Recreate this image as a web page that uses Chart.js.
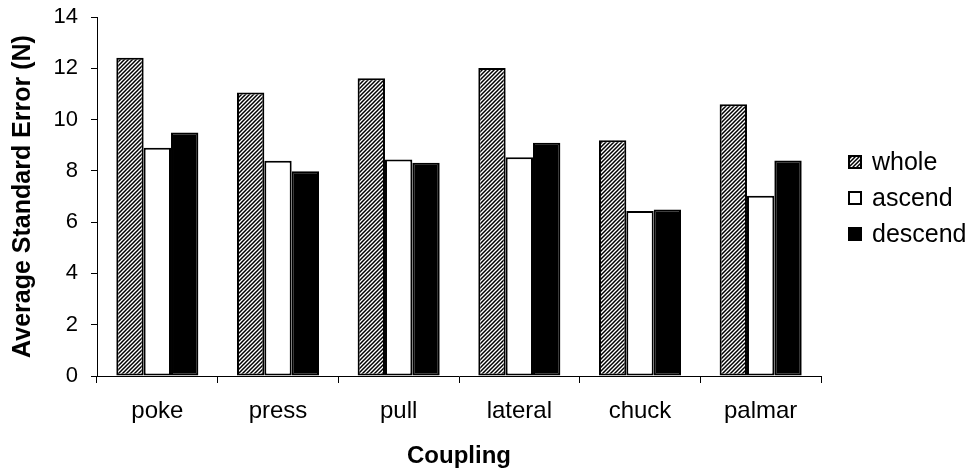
<!DOCTYPE html>
<html>
<head>
<meta charset="utf-8">
<script src="https://cdn.jsdelivr.net/npm/chart.js@4.4.1/dist/chart.umd.min.js"></script>
<style>
  html, body { margin: 0; padding: 0; background: #ffffff; }
  #wrap { width: 971px; height: 474px; }
</style>
</head>
<body>
<div id="wrap"><canvas id="errorChart" width="971" height="474"></canvas></div>
<script>
(function () {
    'use strict';

    const couplings = ['poke', 'press', 'pull', 'lateral', 'chuck', 'palmar'];
    const wholeValues = [12.41, 11.06, 11.61, 12.01, 9.19, 10.60];
    const ascendValues = [8.90, 8.39, 8.44, 8.53, 6.43, 7.03];
    const descendValues = [9.50, 7.98, 8.32, 9.10, 6.49, 8.40];
    const yTicks = [0, 2, 4, 6, 8, 10, 12, 14];

    const FONT_FAMILY = "'Liberation Sans', Arial, sans-serif";

    function makeHatch() {
        const size = 4;
        const c = document.createElement('canvas');
        c.width = size;
        c.height = size;
        const g = c.getContext('2d');
        g.fillStyle = '#ffffff';
        g.fillRect(0, 0, size, size);
        g.strokeStyle = '#000000';
        g.lineWidth = 1.5;
        g.beginPath();
        g.moveTo(-1, size + 1);
        g.lineTo(size + 1, -1);
        g.moveTo(-1, 1);
        g.lineTo(1, -1);
        g.moveTo(size - 1, size + 1);
        g.lineTo(size + 1, size - 1);
        g.stroke();
        return g.createPattern(c, 'repeat');
    }

    // legend on the right, drawn from the dataset styles
    const sideLegend = {
        id: 'sideLegend',
        afterDraw(chart) {
            const ctx = chart.ctx;
            const rows = [162, 198, 234];
            ctx.save();
            ctx.font = '25px ' + FONT_FAMILY;
            ctx.textBaseline = 'middle';
            ctx.textAlign = 'left';
            chart.data.datasets.forEach(function (ds, i) {
                const y = rows[i];
                ctx.fillStyle = ds.backgroundColor;
                ctx.fillRect(849, y - 6, 12, 12);
                ctx.strokeStyle = '#000000';
                ctx.lineWidth = 2;
                ctx.strokeRect(849, y - 6, 12, 12);
                ctx.fillStyle = '#000000';
                ctx.fillText(ds.label, 872, y + 1);
            });
            ctx.restore();
        },
    };

    const whiteBg = {
        id: 'whiteBg',
        beforeDraw(chart) {
            const ctx = chart.ctx;
            ctx.save();
            ctx.fillStyle = '#ffffff';
            ctx.fillRect(0, 0, chart.width, chart.height);
            ctx.restore();
        },
    };

    const hatch = makeHatch();
    const barStyle = {
        borderColor: '#000000',
        borderWidth: 2,
        borderSkipped: false,
        categoryPercentage: 0.68,
        barPercentage: 1.0,
    };

    new Chart(document.getElementById('errorChart'), {
        type: 'bar',
        data: {
            labels: couplings,
            datasets: [
                Object.assign({ label: 'whole', data: wholeValues, backgroundColor: hatch }, barStyle),
                Object.assign({ label: 'ascend', data: ascendValues, backgroundColor: '#ffffff' }, barStyle),
                Object.assign({ label: 'descend', data: descendValues, backgroundColor: '#000000' }, barStyle),
            ],
        },
        options: {
            responsive: false,
            animation: false,
            devicePixelRatio: 1,
            layout: { padding: { left: 0, top: 17, right: 150, bottom: 0 } },
            plugins: {
                legend: { display: false },
                tooltip: { enabled: false },
            },
            scales: {
                x: {
                    offset: true,
                    grid: {
                        offset: true,
                        drawOnChartArea: false,
                        drawTicks: true,
                        tickLength: 7,
                        color: '#000000',
                    },
                    border: { color: '#000000', width: 1 },
                    ticks: {
                        color: '#000000',
                        font: { family: FONT_FAMILY, size: 24 },
                        padding: 14,
                        maxRotation: 0,
                        autoSkip: false,
                    },
                    title: {
                        display: true,
                        text: 'Coupling',
                        color: '#000000',
                        font: { family: FONT_FAMILY, size: 24, weight: 'bold' },
                        padding: { top: 0, bottom: 3 },
                    },
                    afterFit(scale) {
                        scale.height = 98;
                        scale.paddingLeft = 0;
                        scale.paddingRight = 0;
                    },
                },
                y: {
                    min: 0,
                    max: 14,
                    afterBuildTicks(scale) {
                        scale.ticks = yTicks.map((v) => ({ value: v }));
                    },
                    grid: {
                        drawOnChartArea: false,
                        drawTicks: true,
                        tickLength: 6,
                        color: '#000000',
                    },
                    border: { color: '#000000', width: 1 },
                    ticks: {
                        color: '#000000',
                        font: { family: FONT_FAMILY, size: 22 },
                        padding: 13,
                    },
                    title: {
                        display: true,
                        text: 'Average Standard Error (N)',
                        color: '#000000',
                        font: { family: FONT_FAMILY, size: 25, weight: 'bold' },
                        padding: { top: 8, bottom: 0 },
                    },
                    afterFit(scale) {
                        scale.width = 97;
                        scale.paddingTop = 0;
                        scale.paddingBottom = 0;
                    },
                },
            },
        },
        plugins: [whiteBg, sideLegend],
    });
})();
</script>
</body>
</html>
